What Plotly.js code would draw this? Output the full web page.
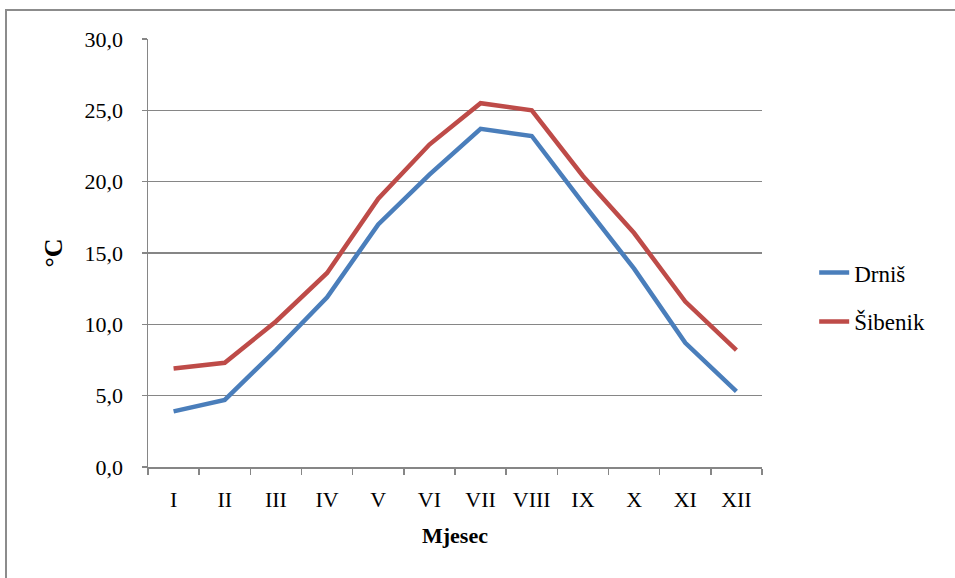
<!DOCTYPE html>
<html>
<head>
<meta charset="utf-8">
<script src="https://cdn.plot.ly/plotly-3.0.1.min.js"></script>
<style>
  html, body { margin: 0; padding: 0; background: #fff; }
  #wrap { position: relative; width: 955px; height: 578px; overflow: hidden; }
  #chart { width: 955px; height: 578px; }
  #frame { position: absolute; left: 5px; top: 9px; width: 960px; height: 580px;
           border: 2px solid #8c8c8c; pointer-events: none; box-sizing: border-box; }
</style>
</head>
<body>
<div id="wrap">
  <div id="chart"></div>
  <div id="frame"></div>
</div>
<script>
const months = ["I", "II", "III", "IV", "V", "VI", "VII", "VIII", "IX", "X", "XI", "XII"];
const drnis = [3.9, 4.7, 8.2, 11.9, 17.0, 20.5, 23.7, 23.2, 18.5, 13.9, 8.7, 5.3];
const sibenik = [6.9, 7.3, 10.2, 13.6, 18.8, 22.6, 25.5, 25.0, 20.4, 16.4, 11.6, 8.2];
const yTicks = [0, 5, 10, 15, 20, 25, 30];
const yTickText = ["0,0", "5,0", "10,0", "15,0", "20,0", "25,0", "30,0"];

const font = "Liberation Serif";

const traces = [
  { x: months, y: drnis, name: "Drniš", type: "scatter", mode: "lines",
    legendgroup: "a", line: { color: "#4A7EBB", width: 4.5 } },
  { x: months, y: sibenik, name: "Šibenik", type: "scatter", mode: "lines",
    legendgroup: "b", line: { color: "#BE4B48", width: 4.5 } }
];

const layout = {
  width: 955, height: 578,
  margin: { l: 148, r: 193, t: 39, b: 111 },
  paper_bgcolor: "#fff", plot_bgcolor: "#fff",
  font: { family: font, size: 22, color: "#000" },
  showlegend: true,
  legend: { x: 1.085, y: 0.397, xanchor: "left", yanchor: "middle",
            traceorder: "grouped", tracegroupgap: 16,
            font: { family: font, size: 23, color: "#000" } },
  xaxis: {
    type: "category", range: [-0.5, 11.5], showgrid: false, showline: true,
    linecolor: "#868686", linewidth: 1.5,
    ticks: "outside", tickson: "boundaries", ticklen: 6, tickcolor: "#868686", tickwidth: 1.5,
    ticklabelstandoff: 12,
    tickfont: { family: font, size: 22 },
    title: { text: "<b>Mjesec</b>", font: { family: font, size: 22 }, standoff: 16 },
    zeroline: false, fixedrange: true
  },
  yaxis: {
    range: [0, 30], tickvals: yTicks, ticktext: yTickText,
    showgrid: true, gridcolor: "#868686", gridwidth: 1.5,
    showline: true, linecolor: "#868686", linewidth: 1.5,
    ticks: "outside", ticklen: 5, tickcolor: "#868686", tickwidth: 1.5,
    ticklabelstandoff: 14,
    tickfont: { family: font, size: 22 },
    title: { text: "<b>°C</b>", font: { family: font, size: 26 }, standoff: 14 },
    zeroline: false, fixedrange: true
  }
};

Plotly.newPlot("chart", traces, layout, { staticPlot: true, displayModeBar: false });
</script>
</body>
</html>
